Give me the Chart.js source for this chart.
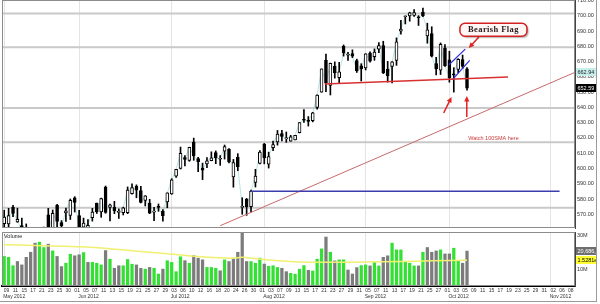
<!DOCTYPE html>
<html>
<head>
<meta charset="utf-8">
<title>AAPL daily</title>
<script src="https://cdn.jsdelivr.net/npm/chart.js@4.4.1/dist/chart.umd.min.js"></script>
<style>
  html, body { margin: 0; padding: 0; background: #fff; }
  #wrap { position: relative; width: 600px; height: 304px; overflow: hidden; background: #fff; }
  #priceChart { position: absolute; left: 0; top: 0; }
  #volChart { position: absolute; left: 0; top: 229px; }
  .edge { position: absolute; background: #9a9a9a; }
</style>
</head>
<body>
<div id="wrap">
  <canvas id="priceChart" width="600" height="229"></canvas>
  <canvas id="volChart" width="600" height="75"></canvas>
  <div class="edge" style="left:596px;top:0;width:1px;height:301px"></div>
  <div class="edge" style="left:0;top:301px;width:597px;height:1px"></div>
</div>
<script>
// trading days shown on the axis (data runs to 10/05, the rest is empty space)
const dates = [
  '05/08','05/09','05/10','05/11','05/14','05/15','05/16','05/17','05/18','05/21','05/22','05/23','05/24','05/25','05/29','05/30','05/31',
  '06/01','06/04','06/05','06/06','06/07','06/08','06/11','06/12','06/13','06/14','06/15','06/18','06/19','06/20','06/21','06/22','06/25','06/26','06/27','06/28','06/29',
  '07/02','07/03','07/05','07/06','07/09','07/10','07/11','07/12','07/13','07/16','07/17','07/18','07/19','07/20','07/23','07/24','07/25','07/26','07/27','07/30','07/31',
  '08/01','08/02','08/03','08/06','08/07','08/08','08/09','08/10','08/13','08/14','08/15','08/16','08/17','08/20','08/21','08/22','08/23','08/24','08/27','08/28','08/29','08/30','08/31',
  '09/04','09/05','09/06','09/07','09/10','09/11','09/12','09/13','09/14','09/17','09/18','09/19','09/20','09/21','09/24','09/25','09/26','09/27','09/28',
  '10/01','10/02','10/03','10/04','10/05','10/08','10/09','10/10','10/11','10/12','10/15','10/16','10/17','10/18','10/19','10/22','10/23','10/24','10/25','10/26','10/29','10/30','10/31',
  '11/01','11/02','11/05','11/06','11/07','11/08'
];
const monthNames = ['May 2012','Jun 2012','Jul 2012','Aug 2012','Sep 2012','Oct 2012','Nov 2012'];

const open = [563.77,563.70,574.57,565.00,562.57,561.00,554.05,545.31,533.96,534.50,569.55,557.50,575.87,564.59,570.90,569.20,580.74,
  569.16,561.50,561.27,567.77,577.29,571.60,587.72,574.46,574.52,571.24,571.00,570.96,583.40,588.21,585.44,579.04,577.30,571.32,575.00,571.85,578.00,
  583.35,594.88,600.00,607.09,605.30,617.22,606.50,600.23,602.94,605.12,610.38,606.00,611.32,612.66,594.40,607.38,574.46,579.76,575.01,590.92,603.23,
  615.91,602.84,613.63,617.29,622.77,619.39,617.85,618.71,623.39,631.87,631.30,631.21,640.00,650.01,670.82,654.42,667.00,659.51,679.99,674.10,675.25,670.64,667.25,
  665.76,675.57,673.17,678.05,680.45,665.11,666.85,670.73,689.96,699.35,699.88,700.26,699.16,702.41,686.86,688.26,668.74,664.29,678.75,
  671.16,661.81,664.86,671.25,665.20];
const high = [572.65,573.88,575.88,574.00,567.51,563.68,556.89,547.50,543.41,561.54,573.88,572.80,576.50,565.85,574.00,579.99,581.50,
  572.65,567.50,566.47,573.85,577.32,580.58,588.50,576.62,578.48,573.50,574.62,587.89,590.00,589.25,588.22,582.19,579.80,574.48,576.74,573.00,584.00,
  593.26,599.47,614.00,608.45,613.90,619.87,607.28,603.48,607.19,610.89,611.50,608.46,615.34,612.94,605.90,609.68,580.80,580.40,585.83,599.44,611.70,
  616.40,610.69,617.98,624.87,625.00,623.88,621.73,621.76,630.00,638.61,634.00,636.76,648.19,665.15,674.88,669.00,669.80,669.48,680.87,676.10,677.67,671.55,668.60,
  675.14,676.35,678.29,682.48,683.29,670.10,669.90,685.50,696.98,699.80,702.33,703.99,700.06,705.07,695.12,692.78,672.69,682.17,681.11,
  676.75,666.00,671.86,674.25,666.00];
const low = [557.50,558.50,568.44,564.70,557.60,552.90,541.04,530.12,522.18,534.05,552.58,553.23,561.23,558.38,565.31,566.56,571.46,
  560.52,548.50,558.33,565.50,570.50,568.00,570.63,565.70,570.38,567.26,569.55,570.37,583.10,580.80,577.44,575.42,570.37,565.78,571.92,565.50,574.25,
  583.01,594.07,599.64,601.62,604.70,605.35,597.90,592.68,600.48,605.00,603.10,602.00,606.14,603.65,587.71,598.51,570.00,569.29,571.59,587.82,603.00,
  603.00,600.25,611.56,615.26,618.04,617.10,617.80,618.70,623.25,630.21,627.75,630.50,638.81,649.90,650.33,648.11,659.13,655.55,673.54,670.67,672.60,662.85,657.25,
  664.50,669.60,670.80,675.77,662.10,656.50,656.00,667.50,687.89,694.61,696.42,699.57,693.62,699.36,682.00,673.00,661.20,661.50,666.75,
  656.50,650.00,662.63,665.55,651.28];
const close = [568.18,569.18,570.52,566.71,558.22,553.17,546.08,530.12,530.38,561.28,556.97,570.56,565.32,562.29,572.27,579.17,577.73,
  560.99,564.29,562.83,571.46,571.72,580.32,571.17,576.16,572.16,571.53,574.13,585.78,587.41,585.74,577.67,582.10,570.77,572.03,574.50,569.05,584.00,
  592.52,599.41,609.94,605.88,613.89,608.21,604.43,598.90,604.97,606.91,606.94,606.26,614.32,604.30,603.83,600.92,574.97,574.88,585.16,595.03,610.76,
  606.81,607.79,615.70,622.55,620.91,619.86,620.73,621.70,630.00,631.69,630.83,636.34,648.11,665.15,656.06,668.87,662.63,663.22,675.68,674.80,673.47,663.87,665.24,
  674.97,670.23,676.27,680.44,662.74,660.59,669.79,682.98,691.28,699.78,701.91,702.10,698.70,700.09,690.79,673.54,665.18,681.32,667.10,
  659.39,661.31,671.45,666.80,652.59];

// volume in millions of shares
const volume = [17.5,17,12,14.5,12.5,17,20,25.4,26,22.8,24.8,20.8,17.5,11.5,13.5,18.8,17.9,
  18.5,19.8,14,14,13.5,12.5,21,15.9,10.5,12,12,15.7,12.9,12.5,10.5,10,11,10.5,7.1,10,15,
  14,8.5,17.3,15,13.5,18,16.5,15.5,11,11,10.5,9,15.5,14.5,16.5,20,31.3,14.5,14.5,13.5,16.5,
  13,11.7,12,11,10.5,8.5,7.5,7,10,12.1,9.3,8.9,15.9,22,29,20,14.9,15.5,15.5,9.5,7.1,10.9,12.1,
  12.5,11.9,13.9,11.9,17,17.9,25.4,21.4,21.4,14.1,13.5,11.9,11.9,20,22.8,20,20.8,21.4,19,
  19,22.4,15,13.5,20.6866];
// volume moving average, read at a few bars
const volAvgIdx = [0,7,14,22,29,37,44,52,54,60,67,75,82,90,97,105];
const volAvg = [24.5,24.0,23.5,22.5,20.9,19.1,17.5,16.5,17.0,15.4,14.2,14.1,14.2,14.5,14.9,15.281];

const priceTicks = [570,580,590,600,610,620,630,640,650,660,670,680,690,700,710];
const volTicks = [10, 30];

// drawn lines (bar index, price)
const levels = [701.5, 679.3, 639.5, 617.2, 574.3];
const supportIdx = [56, 126], supportPrice = [585, 585];
const neckIdx = [72.7, 114.3], neckPrice = [655.3, 659.9];
const trendIdx = [49, 129.5], trendPrice = [562.5, 662.94];
const flagTopIdx = [100.9, 104.6], flagTopPrice = [667.9, 678.1];
const flagBotIdx = [101.7, 105.6], flagBotPrice = [658.1, 670.7];

const notes = {
  flag: { idx: 111, price: 690.8, text: 'Bearish Flag' },
  sma: { idx: 111, price: 619.8, text: 'Watch 100SMA here' },
  arrows: [[107.7, 686.1, 105.4, 678.8], [99.7, 636.3, 101.5, 646.8], [104.95, 633.7, 104.95, 647.4]]
};

Chart.defaults.font.family = "'Liberation Sans', Arial, sans-serif";
Chart.defaults.font.size = 5.5;
Chart.defaults.color = '#222';

const monthStarts = dates.map((d, i) => (i === 0 || d.slice(0, 2) !== dates[i - 1].slice(0, 2)) ? i : -1).filter(i => i >= 0);
const monthGrid = c => monthStarts.includes(c.index) ? '#e4e4e4' : 'rgba(0,0,0,0)';

function tightFit(w, h) {
  return scale => {
    if (w) scale.width = w;
    if (h !== undefined) scale.height = h;
    scale.paddingLeft = scale.paddingRight = scale.paddingTop = scale.paddingBottom = 0;
  };
}

const seg = (xs, ys) => xs.map((x, i) => ({ x: x, y: ys[i] }));
const lineDs = (data, color, width, order) => ({
  type: 'line', xAxisID: 'xl', data: data, borderColor: color, borderWidth: width,
  pointRadius: 0, order: order, clip: 0, tension: 0
});

const frame = {
  id: 'frame',
  afterDatasetsDraw(chart) {
    const { ctx, chartArea: a } = chart;
    ctx.save();
    ctx.strokeStyle = '#8c8c8c';
    ctx.lineWidth = 1;
    ctx.strokeRect(a.left + 0.5, a.top + 0.5, a.right - a.left - 1, a.bottom - a.top - 1);
    ctx.restore();
  }
};

const valueBoxes = {
  id: 'valueBoxes',
  afterDraw(chart, args, opts) {
    const { ctx, chartArea } = chart;
    const y = chart.scales.y;
    (opts.items || []).forEach(it => {
      const py = Math.round(y.getPixelForValue(it.value));
      const x0 = chartArea.right + 1, w = 21, h = 8;
      ctx.save();
      ctx.fillStyle = it.bg;
      ctx.fillRect(x0, py - h / 2, w, h);
      ctx.beginPath();
      ctx.rect(x0, py - h / 2, w, h);
      ctx.clip();
      ctx.fillStyle = it.fg;
      ctx.font = "5.5px 'Liberation Sans', Arial, sans-serif";
      ctx.textBaseline = 'middle';
      ctx.fillText(it.text, x0 + 1.5, py + 0.5);
      ctx.restore();
    });
  }
};

function drawArrow(ctx, x1, y1, x2, y2, color) {
  const a = Math.atan2(y2 - y1, x2 - x1), h = 5.5, s = 2.6;
  ctx.strokeStyle = color;
  ctx.fillStyle = color;
  ctx.lineWidth = 1.5;
  ctx.beginPath();
  ctx.moveTo(x1, y1);
  ctx.lineTo(x2 - Math.cos(a) * h * 0.8, y2 - Math.sin(a) * h * 0.8);
  ctx.stroke();
  ctx.beginPath();
  ctx.moveTo(x2, y2);
  ctx.lineTo(x2 - h * Math.cos(a) + s * Math.sin(a), y2 - h * Math.sin(a) - s * Math.cos(a));
  ctx.lineTo(x2 - h * Math.cos(a) - s * Math.sin(a), y2 - h * Math.sin(a) + s * Math.cos(a));
  ctx.closePath();
  ctx.fill();
}

const notesPlugin = {
  id: 'notes',
  afterDatasetsDraw(chart) {
    const ctx = chart.ctx, sx = chart.scales.xl, sy = chart.scales.y;
    const px = (i, p) => [sx.getPixelForValue(i), sy.getPixelForValue(p)];
    ctx.save();
    notes.arrows.forEach(a => {
      const [x1, y1] = px(a[0], a[1]);
      const [x2, y2] = px(a[2], a[3]);
      drawArrow(ctx, x1, y1, x2, y2, '#e32222');
    });

    // "Bearish Flag" callout
    const [bx, by] = px(notes.flag.idx, notes.flag.price);
    const w = 67, h = 13, r = 5, l = bx - w / 2, t = by - h / 2;
    ctx.beginPath();
    ctx.moveTo(l + r, t);
    ctx.arcTo(l + w, t, l + w, t + h, r);
    ctx.arcTo(l + w, t + h, l, t + h, r);
    ctx.arcTo(l, t + h, l, t, r);
    ctx.arcTo(l, t, l + w, t, r);
    ctx.closePath();
    ctx.shadowColor = 'rgba(0,0,0,0.35)';
    ctx.shadowOffsetX = 1.5;
    ctx.shadowOffsetY = 1.5;
    ctx.shadowBlur = 1.5;
    ctx.fillStyle = '#fff6f6';
    ctx.fill();
    ctx.shadowColor = 'rgba(0,0,0,0)';
    ctx.strokeStyle = '#d42020';
    ctx.lineWidth = 1.5;
    ctx.stroke();
    ctx.fillStyle = '#2a1a1a';
    ctx.font = "bold 8.5px 'Liberation Serif', 'DejaVu Serif', serif";
    ctx.letterSpacing = '0.4px';
    ctx.textAlign = 'center';
    ctx.textBaseline = 'middle';
    ctx.fillText(notes.flag.text, bx, by + 0.5);

    ctx.letterSpacing = '0px';
    const [tx, ty] = px(notes.sma.idx, notes.sma.price);
    ctx.fillStyle = '#c83a3a';
    ctx.font = "5.5px 'Liberation Sans', Arial, sans-serif";
    ctx.fillText(notes.sma.text, tx, ty);
    ctx.restore();
  }
};

// ---- price panel ----
const bodies = open.map((o, i) => [o, close[i]]);
const wicks = low.map((l, i) => [l, high[i]]);

new Chart(document.getElementById('priceChart'), {
  type: 'bar',
  data: {
    labels: dates,
    datasets: [
      { data: bodies, backgroundColor: open.map((o, i) => close[i] >= o ? '#ffffff' : '#000000'),
        borderColor: '#000', borderWidth: 1, borderSkipped: false, barThickness: 3, minBarLength: 1,
        grouped: false, order: 1, clip: 0 },
      { data: wicks, backgroundColor: '#000', borderWidth: 0, barThickness: 1, grouped: false, order: 2, clip: 0 },
      { type: 'line', data: close, borderColor: 'rgba(130,205,205,0.55)', borderWidth: 1, pointRadius: 0, order: 3, clip: 0 },
      ...levels.map(v => lineDs(seg([-0.5, 129.5], [v, v]), '#c9c9c9', 2, 10)),
      lineDs(seg(supportIdx, supportPrice), '#3c3cae', 1.5, 0),
      lineDs(seg(neckIdx, neckPrice), '#d93030', 1.5, 0),
      lineDs(seg(trendIdx, trendPrice), '#c76a6a', 1, 0),
      lineDs(seg(flagTopIdx, flagTopPrice), '#2b2bdd', 1.2, 0),
      lineDs(seg(flagBotIdx, flagBotPrice), '#2b2bdd', 1.2, 0)
    ]
  },
  options: {
    responsive: false,
    animation: false,
    events: [],
    layout: { padding: { left: 2, right: 0, top: 0, bottom: 1 } },
    plugins: {
      legend: { display: false },
      tooltip: { enabled: false },
      valueBoxes: { items: [
        { value: trendPrice[1], text: trendPrice[1].toFixed(2), bg: '#c6efec', fg: '#222' },
        { value: close[close.length - 1], text: close[close.length - 1].toFixed(2), bg: '#000', fg: '#fff' }
      ] }
    },
    scales: {
      x: { type: 'category', offset: true, ticks: { display: false }, border: { display: false },
           grid: { offset: false, drawTicks: false, color: monthGrid }, afterFit: tightFit(0, 0) },
      xl: { type: 'linear', display: false, min: -0.5, max: 129.5, offset: false },
      y: { position: 'right', min: 561, max: 710.3,
           grid: { display: false, drawTicks: false }, border: { color: '#444' },
           afterBuildTicks: s => { s.ticks = priceTicks.map(v => ({ value: v })); },
           ticks: { autoSkip: false, padding: 2, color: '#333', callback: v => Number(v).toFixed(2) },
           afterFit: tightFit(25) }
    }
  },
  plugins: [frame, notesPlugin, valueBoxes]
});

// ---- volume panel ----
const volLabel = {
  id: 'volLabel',
  afterDraw(chart) {
    const { ctx, chartArea } = chart;
    ctx.save();
    ctx.fillStyle = '#222';
    ctx.font = "5.5px 'Liberation Sans', Arial, sans-serif";
    ctx.textBaseline = 'top';
    ctx.fillText('Volume', chartArea.left + 2, chartArea.top + 2);
    ctx.restore();
  }
};

new Chart(document.getElementById('volChart'), {
  type: 'bar',
  data: {
    labels: dates,
    datasets: [
      { data: volume, backgroundColor: volume.map((v, i) => (i === 0 || close[i] >= close[i - 1]) ? '#33e033' : '#7c7c7c'),
        barThickness: 2.6, grouped: false, order: 1, clip: 0 },
      { type: 'line', xAxisID: 'xl', data: seg(volAvgIdx, volAvg), borderColor: '#f0f070', borderWidth: 1.5,
        pointRadius: 0, order: 0, clip: 0, tension: 0.3 }
    ]
  },
  options: {
    responsive: false,
    animation: false,
    events: [],
    layout: { padding: { left: 2, right: 0, top: 3, bottom: 3 } },
    plugins: {
      legend: { display: false },
      tooltip: { enabled: false },
      valueBoxes: { items: [
        { value: volume[volume.length - 1], text: Math.round(volume[volume.length - 1] * 1e6).toLocaleString('en-US'), bg: '#6e6e6e', fg: '#fff' },
        { value: volAvg[volAvg.length - 1], text: (volAvg[volAvg.length - 1] * 1e6).toExponential(4), bg: '#ffff33', fg: '#000' }
      ] }
    },
    scales: {
      x: { type: 'category', offset: true, weight: 0, border: { color: '#000', width: 2 },
           grid: { offset: false, drawTicks: false, color: monthGrid },
           ticks: { autoSkip: false, maxRotation: 0, padding: 2, labelOffset: -2, color: '#333', font: { size: 5 },
                    callback: (v, i) => i % 2 === 1 ? dates[i].slice(3) : '' },
           afterFit: tightFit(0, 8) },
      xm: { type: 'category', position: 'bottom', offset: true, weight: 1, border: { display: false },
            grid: { display: false, drawTicks: false },
            ticks: { autoSkip: false, maxRotation: 0, padding: 0, align: 'start', labelOffset: -1, color: '#333', font: { size: 5 },
                     callback: (v, i) => { const k = monthStarts.indexOf(i); return k >= 0 ? monthNames[k] : ''; } },
            afterFit: tightFit(0, 7) },
      xl: { type: 'linear', display: false, min: -0.5, max: 129.5, offset: false },
      y: { position: 'right', min: 0, max: 32,
           grid: { display: false, drawTicks: false }, border: { color: '#444' },
           afterBuildTicks: s => { s.ticks = volTicks.map(v => ({ value: v })); },
           ticks: { autoSkip: false, padding: 2, color: '#333', callback: v => v + 'M' },
           afterFit: tightFit(25) }
    }
  },
  plugins: [frame, volLabel, valueBoxes]
});
</script>
</body>
</html>
